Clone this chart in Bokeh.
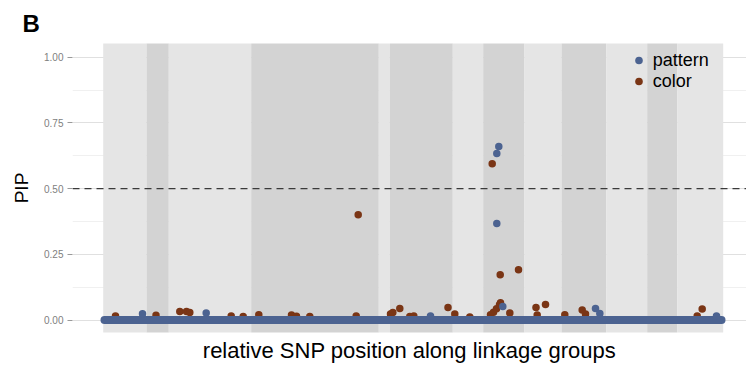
from bokeh.plotting import figure
from bokeh.models import Span, Legend, LegendItem, FixedTicker, PrintfTickFormatter, Range1d
from bokeh.embed import file_html
from bokeh.resources import INLINE

# ---- data ----
lg_names = ["LG1", "LG2", "LG3", "LG4", "LG5", "LG6", "LG7",
            "LG8", "LG9", "LG10", "LG11", "LG12", "LG13"]
lg_lengths = [43.3, 22.3, 82.4, 127.6, 11.0, 63.0, 30.4, 41.3, 37.0, 44.7, 41.0, 30.0, 46.0]

y_ticks = [0.0, 0.25, 0.50, 0.75, 1.00]
y_minor = [0.125, 0.375, 0.625, 0.875]
threshold = 0.5

# SNPs with PIP ~ 0 form a continuous band from first to last SNP
baseline_pos = [1.3, 618.3]
baseline_pip = [0.0, 0.0]

pattern_pos = [39.3, 103.0, 327.3, 395.6, 393.6, 393.6, 399.6, 492.3, 496.6, 613.3]
pattern_pip = [0.024, 0.027, 0.016, 0.660, 0.634, 0.367, 0.052, 0.044, 0.025, 0.016]

color_pos = [12.3, 52.8, 76.6, 83.3, 86.6, 128.0, 140.0, 155.6, 188.3, 193.3,
             206.6, 255.0, 253.0, 287.3, 289.6, 296.6, 306.6, 310.6, 344.8, 351.6,
             366.6, 387.3, 390.3, 393.3, 396.3, 397.3, 389.0, 397.0, 406.6, 415.3,
             432.8, 442.3, 434.0, 461.6, 479.0, 482.3, 594.0, 599.0]
color_pip = [0.016, 0.018, 0.033, 0.033, 0.029, 0.016, 0.014, 0.020, 0.019, 0.015,
             0.014, 0.401, 0.016, 0.023, 0.029, 0.044, 0.014, 0.016, 0.048, 0.023,
             0.012, 0.020, 0.030, 0.043, 0.058, 0.066, 0.595, 0.1725, 0.027, 0.1915,
             0.048, 0.059, 0.019, 0.020, 0.038, 0.023, 0.016, 0.042]

# ---- style ----
BLUE = "#4c6391"
BROWN = "#7a3515"
LIGHT = "#e5e5e5"
DARK = "#d3d3d3"
FONT = "Liberation Sans"

starts, ends = [], []
acc = 0.0
for L in lg_lengths:
    starts.append(acc)
    acc += L
    ends.append(acc)
band_colors = [LIGHT if i % 2 == 0 else DARK for i in range(len(lg_lengths))]

p = figure(width=746, height=365, output_backend="svg", toolbar_location=None,
           x_range=Range1d(-30.7, 643.3), y_range=Range1d(-0.0472, 1.0522),
           min_border_left=72, min_border_right=0, min_border_top=43, min_border_bottom=33)
p.outline_line_color = None
p.background_fill_color = "white"
p.border_fill_color = "white"

# title "B"
p.title.text = "B"
p.title.text_font = FONT
p.title.text_font_size = "24px"
p.title.text_font_style = "bold"
p.title.text_color = "black"
p.title.align = "left"
p.title.offset = -50
p.title.standoff = 13

# grid
p.xgrid.grid_line_color = None
p.ygrid.ticker = FixedTicker(ticks=y_ticks, minor_ticks=y_minor)
p.ygrid.grid_line_color = "#e0e0e0"
p.ygrid.minor_grid_line_color = "#f0f0f0"

# linkage group bands
p.quad(left=starts, right=ends, bottom=-1, top=2, fill_color=band_colors, line_color=None)

# threshold
p.add_layout(Span(location=threshold, dimension="width", line_color="#3a3a3a",
                  line_width=1.4, line_dash="7 5"))

# points
r_color = p.scatter(color_pos, color_pip, size=7.5, fill_color=BROWN, line_color=None)
p.line(baseline_pos, baseline_pip, line_width=8, line_color=BLUE, line_cap="round")
r_pattern = p.scatter(pattern_pos, pattern_pip, size=7.5, fill_color=BLUE, line_color=None)

# axes
yax = p.yaxis[0]
yax.ticker = FixedTicker(ticks=y_ticks, minor_ticks=[])
yax.formatter = PrintfTickFormatter(format="%.2f")
yax.axis_line_color = None
yax.major_tick_in = 0
yax.major_tick_out = 5
yax.major_tick_line_color = "#999999"
yax.minor_tick_line_color = None
yax.major_label_text_font = FONT
yax.major_label_text_font_size = "10px"
yax.major_label_text_color = "#808080"
yax.major_label_standoff = 4
yax.axis_label = "PIP"
yax.axis_label_text_font = FONT
yax.axis_label_text_font_size = "19px"
yax.axis_label_text_font_style = "normal"
yax.axis_label_text_color = "black"
yax.axis_label_standoff = 9

xax = p.xaxis[0]
xax.ticker = FixedTicker(ticks=[], minor_ticks=[])
xax.axis_line_color = None
xax.major_tick_line_color = None
xax.minor_tick_line_color = None
xax.major_tick_out = 0
xax.major_tick_in = 0
xax.major_label_standoff = 0
xax.axis_label = "relative SNP position along linkage groups"
xax.axis_label_text_font = FONT
xax.axis_label_text_font_size = "22px"
xax.axis_label_text_font_style = "normal"
xax.axis_label_text_color = "black"
xax.axis_label_standoff = 5

legend = Legend(items=[LegendItem(label="pattern", renderers=[r_pattern]),
                       LegendItem(label="color", renderers=[r_color])],
                location=(556.8, 240.4), orientation="vertical",
                glyph_width=19, glyph_height=20, label_height=20, label_standoff=5,
                spacing=0, padding=0, margin=0,
                label_text_font=FONT, label_text_font_size="18px", label_text_color="black",
                background_fill_alpha=0, border_line_color=None)
p.add_layout(legend)

open("out.html", "w").write(file_html(p, INLINE))
